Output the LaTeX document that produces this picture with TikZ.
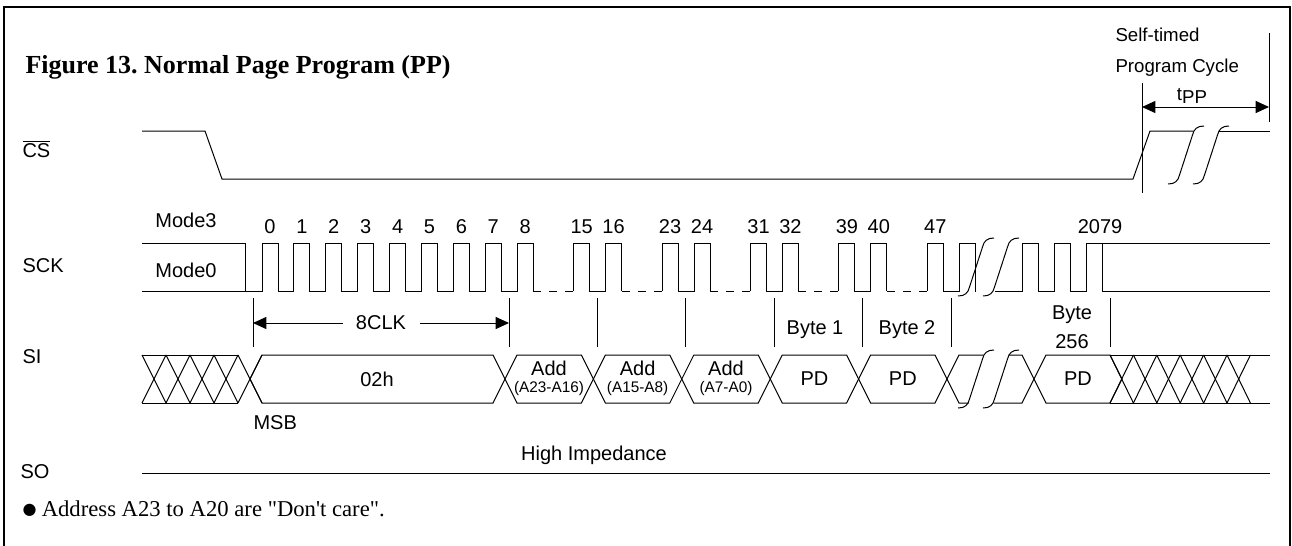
\documentclass[tikz,border=0pt]{standalone}
\usepackage{fontspec}
\setmainfont{Liberation Serif}
\setsansfont{Liberation Sans}
\newfontfamily\notefont{Liberation Serif}[Ligatures=TeXOff]
\newfontfamily\symf{DejaVu Sans}
\usetikzlibrary{arrows.meta}
\frenchspacing
\begin{document}
\begin{tikzpicture}[x=0.75pt,y=-0.75pt,line width=0.75pt,line join=miter,
  lbl/.style={font=\sffamily\fontsize{15}{18}\selectfont,inner sep=0pt},
  lblsm/.style={font=\sffamily\fontsize{14}{16}\selectfont,inner sep=0pt},
  tiny/.style={font=\sffamily\fontsize{11.5}{13}\selectfont,inner sep=0pt},
  mkline/.style={line width=0.75pt},
  dashlow/.style={dash pattern=on 6pt off 6pt},
  dimarrow/.style={{Triangle[length=10pt,width=9pt]}-{Triangle[length=10pt,width=9pt]}},
  larrow/.style={-{Triangle[length=10pt,width=9pt]}}]
\useasboundingbox (0,0) rectangle (1292,546);
% frame
\draw[line width=1pt] (4,7) rectangle (1290,620);
% title
\node[anchor=base west,inner sep=0pt,font=\bfseries\fontsize{19.5}{22}\selectfont] (title) at (25,73) {Figure 13. Normal Page Program (PP)};
% break symbol: #1 centre x, #2 low y, #3 high y
\newcommand\brkmark[3]{%
  \draw ({#1-18},{#2+5}) .. controls ({#1-11},{#2+5}) and ({#1-8},{#2+2}) .. ({#1-6.5},{#2-4})
        -- ({#1+6.5},{#3+4}) .. controls ({#1+8},{#3-2}) and ({#1+11},{#3-5}) .. ({#1+18},{#3-5});}
% hexagon cell: #1 left crossing, #2 right crossing
\newcommand\hexcell[2]{%
  \draw (#1,379) -- ({#1+12},355) -- ({#2-12},355) -- (#2,379) -- ({#2-12},403) -- ({#1+12},403) -- cycle;}
% ---------- signal names
\node[lbl,anchor=west] (cs) at (22,149) {$\overline{\mbox{CS}}$};
\node[lbl,anchor=west] (sck) at (22,266) {SCK};
\node[lbl,anchor=west] (si) at (22,357) {SI};
\node[lbl,anchor=west] (so) at (20,472) {SO};
% ---------- CS
\draw (142,131) -- (205,131) -- (222,179) -- (1133,179) -- (1150,131) -- (1193.5,131);
\draw (1218.5,131) -- (1270,131);
\brkmark{1186}{179}{131}
\brkmark{1211}{179}{131}
% self-timed
\node[lblsm,anchor=base west] (st1) at (1115,41) {Self-timed};
\node[lblsm,anchor=base west] (st2) at (1115,72) {Program Cycle};
\coordinate (tpa) at (1142,83);
\coordinate (tpb) at (1142,193);
\coordinate (tpc) at (1269,33);
\coordinate (tpd) at (1269,122);
\draw[mkline] (tpa) -- (tpb);
\draw[mkline] (tpc) -- (tpd);
\coordinate (tpl) at (1142,107);
\coordinate (tpr) at (1269,107);
\draw[dimarrow] (tpl) -- (tpr);
\node[lblsm] (tpp) at (1192,96) {t\raisebox{-2.5pt}{PP}};
% ---------- SCK
\node[lbl] (m3) at (186,220) {Mode3};
\node[lbl] (m0) at (186,270) {Mode0};
\draw (142,243) -- (245,243) -- (245,291);
\draw (142,291) foreach \k in {0,...,8} { -- ({262+31.9*\k},291) -- ++(0,-48) -- ++(16,0) -- ++(0,48) };
\foreach \k in {0,...,8} { \node[lbl] (n\k) at ({270+31.9*\k},227) {\k}; }
\foreach \j/\a/\b in {1/15/16,2/23/24,3/31/32,4/39/40,5/47/48} {
  \pgfmathsetmacro\g{517.2+88.4*\j}
  \draw[dashlow] ({\g-88.4+16},291) -- ({\g-31.9},291);
  \draw ({\g-31.9},291) -- ++(0,-48) -- ++(16,0) -- ++(0,48) -- (\g,291) -- ++(0,-48) -- ++(16,0) -- ++(0,48);
  \node[lbl] (na\j) at ({\g-31.9+8},227) {\a};
}
\foreach \j/\b in {1/16,2/24,3/32,4/40} {
  \node[lbl] (nb\j) at ({517.2+88.4*\j+8},227) {\b};
}
\draw (975.2,291) -- (976,291);
\brkmark{976}{291}{243}
\brkmark{1001}{291}{243}
\draw (995,291) -- (1022,291) -- ++(0,-48) -- ++(16,0) -- ++(0,48) -- (1054,291) -- ++(0,-48) -- ++(16,0) -- ++(0,48) -- (1086,291) -- (1086,243) -- (1270,243);
\draw (1102,243) -- (1102,291) -- (1270,291);
\node[lbl] (n2079) at (1100,227) {2079};
% ---------- markers
\foreach \x [count=\i] in {253,509,597.4,685.8,774.2,862.6,951,1110} {
  \coordinate (mt\i) at (\x,298);
  \coordinate (mb\i) at (\x,347);
  \draw[mkline] (mt\i) -- (mb\i);
}
\coordinate (cl1) at (343,323);
\coordinate (cl2) at (420,323);
\draw[larrow] (cl1) -- (253,323);
\draw[larrow] (cl2) -- (509,323);
\node[lbl] (clk) at (381,323) {8CLK};
\node[lbl] (b1) at (815,330) {Byte 1};
\node[lbl] (b2) at (907,330) {Byte 2};
\node[lbl] (b256a) at (1072,315) {Byte};
\node[lbl] (b256b) at (1072,342) {256};
% ---------- SI
\draw (142,355) -- (238,355);
\draw (142,403) -- (238,403);
\foreach \k in {0,...,4} {
  \draw ({142+24*\k},355) -- ({166+24*\k},403);
  \draw ({142+24*\k},403) -- ({166+24*\k},355);
}
\hexcell{250}{505}
\node[lbl] (h02) at (377,379) {02h};
\foreach \j in {0,...,4} {
  \pgfmathsetmacro\cl{505+88.4*\j}
  \pgfmathsetmacro\cr{505+88.4*(\j+1)}
  \hexcell{\cl}{\cr}
}
\node[lbl] (ad1) at (549,368) {Add};
\node[tiny] (ad1s) at (549,389) {(A23-A16)};
\node[lbl] (ad2) at (637.6,368) {Add};
\node[tiny] (ad2s) at (637.6,389) {(A15-A8)};
\node[lbl] (ad3) at (726,368) {Add};
\node[tiny] (ad3s) at (726,389) {(A7-A0)};
\node[lbl] (pd1) at (814.4,379) {PD};
\node[lbl] (pd2) at (902.8,379) {PD};
\draw (947,379) -- (959,355) -- (983.5,355);
\draw (947,379) -- (959,403) -- (968.5,403);
\brkmark{976}{403}{355}
\brkmark{1001}{403}{355}
\draw (1008.5,355) -- (1022,355) -- (1034,379);
\draw (993.5,403) -- (1022,403) -- (1034,379);
\hexcell{1034}{1122}
\node[lbl] (pd3) at (1078,379) {PD};
\draw (1110,355) -- (1270,355);
\draw (1110,403) -- (1270,403);
\foreach \k in {0,...,5} {
  \draw ({1110+23.4*\k},355) -- ({1133.4+23.4*\k},403);
  \draw ({1110+23.4*\k},403) -- ({1133.4+23.4*\k},355);
}
\node[lbl,anchor=west] (msb) at (253,423) {MSB};
% ---------- SO
\coordinate (so1) at (142,473);
\coordinate (so2) at (1270,473);
\draw (so1) -- (so2);
\node[lbl] (hiz) at (594,455) {High Impedance};
% ---------- note
\node[anchor=base west,inner sep=0pt,font=\notefont\fontsize{17}{20}\selectfont] (note) at (22,516) {\raisebox{1.5pt}{\symf\fontsize{12}{12}\selectfont ●}\hspace{4pt}Address A23 to A20 are "Don't care".};
\end{tikzpicture}
\end{document}
